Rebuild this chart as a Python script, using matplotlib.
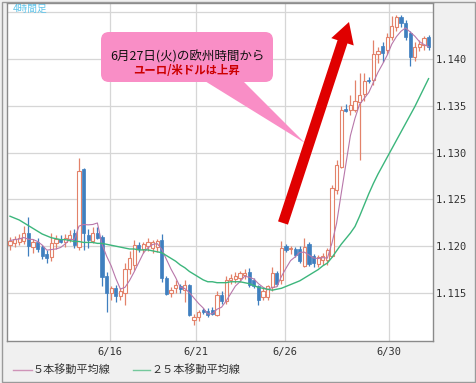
"""
ユーロ/米ドル 4時間足チャート（5本・25本移動平均線つき）の再現。
"""
import numpy as np
import pandas as pd
import matplotlib
matplotlib.use("Agg")
import matplotlib.pyplot as plt
import matplotlib.patches as mpatches
import matplotlib.transforms as mtransforms

W, H = 476, 383

# --- 4時間足 (始値, 高値, 安値, 終値) ---
opens = [1.1201, 1.1203, 1.1205, 1.1206, 1.1214, 1.1199, 1.1205, 1.1199, 1.1192, 1.1188,
         1.1203, 1.1208, 1.1204, 1.1208, 1.1214, 1.1199, 1.1282, 1.1212, 1.1206, 1.1214,
         1.1210, 1.1168, 1.1150, 1.1155, 1.1147, 1.1150, 1.1176, 1.1180, 1.1201, 1.1197,
         1.1200, 1.1198, 1.1199, 1.1207, 1.1166, 1.1150, 1.1155, 1.1157, 1.1153, 1.1158,
         1.1121, 1.1124, 1.1132, 1.1131, 1.1132, 1.1127, 1.1148, 1.1141, 1.1164, 1.1165,
         1.1166, 1.1169, 1.1172, 1.1164, 1.1157, 1.1146, 1.1146, 1.1156, 1.1171, 1.1164,
         1.1200, 1.1197, 1.1197, 1.1197, 1.1179, 1.1202, 1.1190, 1.1181, 1.1185, 1.1185,
         1.1190, 1.1260, 1.1285, 1.1347, 1.1346, 1.1346, 1.1354, 1.1363, 1.1378, 1.1378,
         1.1405, 1.1414, 1.1410, 1.1424, 1.1434, 1.1445, 1.1438, 1.1428, 1.1402, 1.1413,
         1.1415, 1.1424]
highs = [1.1210, 1.1211, 1.1213, 1.1222, 1.1231, 1.1208, 1.1209, 1.1201, 1.1196, 1.1214,
         1.1212, 1.1212, 1.1213, 1.1217, 1.1218, 1.1294, 1.1284, 1.1218, 1.1220, 1.1220,
         1.1212, 1.1172, 1.1157, 1.1158, 1.1155, 1.1182, 1.1195, 1.1207, 1.1205, 1.1205,
         1.1209, 1.1207, 1.1208, 1.1213, 1.1168, 1.1156, 1.1164, 1.1160, 1.1164, 1.1160,
         1.1128, 1.1132, 1.1134, 1.1134, 1.1135, 1.1152, 1.1152, 1.1168, 1.1170, 1.1172,
         1.1174, 1.1176, 1.1177, 1.1166, 1.1159, 1.1155, 1.1158, 1.1178, 1.1174, 1.1206,
         1.1202, 1.1200, 1.1199, 1.1200, 1.1209, 1.1204, 1.1192, 1.1191, 1.1193, 1.1198,
         1.1265, 1.1292, 1.1350, 1.1352, 1.1362, 1.1378, 1.1385, 1.1385, 1.1381, 1.1420,
         1.1413, 1.1418, 1.1428, 1.1446, 1.1447, 1.1447, 1.1442, 1.1430, 1.1418, 1.1420,
         1.1425, 1.1426]
lows = [1.1196, 1.1199, 1.1201, 1.1202, 1.1190, 1.1193, 1.1194, 1.1186, 1.1182, 1.1184,
        1.1197, 1.1203, 1.1199, 1.1204, 1.1198, 1.1196, 1.1196, 1.1198, 1.1203, 1.1208,
        1.1157, 1.1130, 1.1143, 1.1140, 1.1143, 1.1137, 1.1170, 1.1175, 1.1194, 1.1193,
        1.1195, 1.1193, 1.1194, 1.1162, 1.1148, 1.1146, 1.1150, 1.1150, 1.1140, 1.1125,
        1.1116, 1.1120, 1.1128, 1.1124, 1.1126, 1.1125, 1.1138, 1.1138, 1.1160, 1.1161,
        1.1162, 1.1165, 1.1156, 1.1155, 1.1137, 1.1142, 1.1143, 1.1152, 1.1157, 1.1160,
        1.1194, 1.1192, 1.1188, 1.1182, 1.1178, 1.1179, 1.1178, 1.1178, 1.1180, 1.1180,
        1.1188, 1.1256, 1.1283, 1.1343, 1.1340, 1.1343, 1.1292, 1.1355, 1.1374, 1.1372,
        1.1396, 1.1397, 1.1405, 1.1420, 1.1430, 1.1434, 1.1420, 1.1393, 1.1398, 1.1409,
        1.1410, 1.1410]
closes = [1.1206, 1.1208, 1.1209, 1.1214, 1.1200, 1.1205, 1.1197, 1.1190, 1.1187, 1.1203,
          1.1208, 1.1205, 1.1209, 1.1212, 1.1201, 1.1280, 1.1214, 1.1207, 1.1214, 1.1209,
          1.1167, 1.1150, 1.1155, 1.1147, 1.1152, 1.1176, 1.1187, 1.1201, 1.1197, 1.1202,
          1.1205, 1.1204, 1.1206, 1.1166, 1.1149, 1.1153, 1.1159, 1.1154, 1.1159, 1.1127,
          1.1124, 1.1130, 1.1130, 1.1127, 1.1128, 1.1148, 1.1141, 1.1164, 1.1166, 1.1168,
          1.1171, 1.1171, 1.1158, 1.1157, 1.1143, 1.1152, 1.1157, 1.1171, 1.1160, 1.1198,
          1.1196, 1.1198, 1.1191, 1.1184, 1.1199, 1.1181, 1.1182, 1.1188, 1.1189, 1.1196,
          1.1262, 1.1287, 1.1346, 1.1344, 1.1351, 1.1355, 1.1362, 1.1377, 1.1376, 1.1405,
          1.1409, 1.1406, 1.1424, 1.1435, 1.1445, 1.1438, 1.1424, 1.1402, 1.1413, 1.1416,
          1.1422, 1.1413]

# 25本移動平均線（チャートから読み取り）
ma25 = [1.1232, 1.1230, 1.1228, 1.1225, 1.1222, 1.1219, 1.1216, 1.1213, 1.1211, 1.1209,
        1.1208, 1.1207, 1.1207, 1.1206, 1.1205, 1.1205, 1.1204, 1.1204, 1.1204, 1.1203,
        1.1203, 1.1202, 1.1201, 1.1200, 1.1199, 1.1198, 1.1197, 1.1197, 1.1196, 1.1196,
        1.1196, 1.1195, 1.1194, 1.1193, 1.1190, 1.1187, 1.1184, 1.1180, 1.1177, 1.1173,
        1.1170, 1.1167, 1.1164, 1.1162, 1.1162, 1.1161, 1.1161, 1.1161, 1.1162, 1.1162,
        1.1162, 1.1161, 1.1160, 1.1158, 1.1156, 1.1155, 1.1154, 1.1153, 1.1154, 1.1155,
        1.1157, 1.1159, 1.1161, 1.1163, 1.1166, 1.1169, 1.1172, 1.1175, 1.1179, 1.1182,
        1.1188, 1.1195, 1.1202, 1.1208, 1.1214, 1.1221, 1.1232, 1.1244, 1.1256, 1.1267,
        1.1277, 1.1286, 1.1295, 1.1304, 1.1313, 1.1322, 1.1331, 1.1340, 1.1349, 1.1359,
        1.1369, 1.1379]

date_ticks = [21.7, 40.4, 59.8, 82.4]
date_labels = ["6/16", "6/21", "6/26", "6/30"]
price_ticks = [1.115, 1.120, 1.125, 1.130, 1.135, 1.140, 1.145]
price_labels = ["1.115", "1.120", "1.125", "1.130", "1.135", "1.140", ""]

UP_COLOR = "#e3826a"
DOWN_COLOR = "#3f7fbf"
MA5_COLOR = "#b877aa"
MA25_COLOR = "#3cb67c"
CJK = ["Noto Sans CJK JP", "DejaVu Sans"]
MONO = "DejaVu Sans Mono"


def main():
    df = pd.DataFrame({"open": opens, "high": highs, "low": lows, "close": closes})
    df["ma5"] = df["close"].rolling(5, min_periods=1).mean()
    df["ma25"] = ma25
    x = np.arange(len(df))
    up = df["close"] >= df["open"]

    fig = plt.figure(figsize=(W / 100, H / 100), dpi=100, facecolor="#f0f0f0")
    # ピクセル座標（左上原点）
    pix = mtransforms.Affine2D().scale(1 / W, -1 / H).translate(0, 1) + fig.transFigure

    ax = fig.add_axes([7 / W, 1 - 341 / H, 426 / W, 338 / H])
    ax.set_facecolor("white")
    ax.set_xlim(-0.65, 91.96)
    ax.set_ylim(1.10987, 1.14598)

    # ローソク足
    colors = np.where(up, UP_COLOR, DOWN_COLOR)
    ax.vlines(x, df["low"], df["high"], colors=colors, linewidth=0.9, zorder=3)
    body_lo = np.minimum(df["open"], df["close"])
    body_h = np.maximum((df["close"] - df["open"]).abs(), 0.00006)
    ax.bar(x[up], body_h[up], bottom=body_lo[up], width=0.68,
           facecolor="white", edgecolor=UP_COLOR, linewidth=0.8, zorder=4)
    ax.bar(x[~up], body_h[~up], bottom=body_lo[~up], width=0.68,
           facecolor=DOWN_COLOR, edgecolor=DOWN_COLOR, linewidth=0.5, zorder=4)

    ax.plot(x, df["ma5"], color=MA5_COLOR, linewidth=0.8, zorder=5)
    ax.plot(x, df["ma25"], color=MA25_COLOR, linewidth=1.0, zorder=5)

    ax.set_xticks(date_ticks)
    ax.set_xticklabels(date_labels, fontfamily=MONO, fontsize=7.5, color="#333333")
    ax.set_yticks(price_ticks)
    ax.set_yticklabels(price_labels, fontfamily=MONO, fontsize=7.5, color="#333333")
    ax.yaxis.tick_right()
    ax.tick_params(axis="both", length=0)
    ax.tick_params(axis="x", pad=4.5)
    ax.tick_params(axis="y", pad=2)
    ax.grid(True, color="#d6d6d6", linewidth=0.9, zorder=0)
    ax.set_axisbelow(True)
    for sp in ax.spines.values():
        sp.set_color("#8a8a8a")
        sp.set_linewidth(1.0)

    fig.text(13, 9, "4時間足", transform=pix, fontfamily=CJK, fontsize=7,
             color="#5ec4ea", va="center", ha="left")

    # 吹き出し
    balloon = "#f98ec6"
    fig.patches.append(mpatches.FancyBboxPatch(
        (101, 32), 172, 50, boxstyle="round,pad=0,rounding_size=8",
        transform=pix, facecolor=balloon, edgecolor="none", zorder=6))
    fig.patches.append(mpatches.Polygon(
        [(200, 78), (240, 78), (305, 143)], closed=True,
        transform=pix, facecolor=balloon, edgecolor="none", zorder=6))
    fig.text(187, 57, "6月27日(火)の欧州時間から", transform=pix, fontfamily=CJK,
             fontsize=9, color="#111111", ha="center", va="center", zorder=7)
    fig.text(187, 70, "ユーロ/米ドルは上昇", transform=pix, fontfamily=CJK,
             fontsize=8.2, fontweight="bold", color="#cc0000", ha="center",
             va="center", zorder=7)

    # 上昇の矢印
    arrow = mpatches.FancyArrowPatch(
        (283, 223), (349, 22), transform=pix, shrinkA=0, shrinkB=0,
        arrowstyle=mpatches.ArrowStyle("simple", head_length=15, head_width=17,
                                       tail_width=7.5),
        facecolor="#e00000", edgecolor="none", zorder=8)
    fig.patches.append(arrow)

    # 凡例
    fig.add_artist(plt.Line2D([13, 32], [370, 370], transform=pix,
                              color="#cf94b8", linewidth=1.0))
    fig.text(33, 370, "５本移動平均線", transform=pix, fontfamily=CJK,
             fontsize=8, color="#333333", va="center", ha="left")
    fig.add_artist(plt.Line2D([133, 150], [370, 370], transform=pix,
                              color="#74c89c", linewidth=1.0))
    fig.text(151, 370, "２５本移動平均線", transform=pix, fontfamily=CJK,
             fontsize=8, color="#333333", va="center", ha="left")

    # 外枠
    fig.patches.append(mpatches.Rectangle(
        (1.5, 1.5), W - 3, H - 3, transform=pix, fill=False,
        edgecolor="#9a9a9a", linewidth=1.0))

    fig.savefig("out.png", dpi=100, facecolor=fig.get_facecolor())
    plt.close(fig)


if __name__ == "__main__":
    main()
